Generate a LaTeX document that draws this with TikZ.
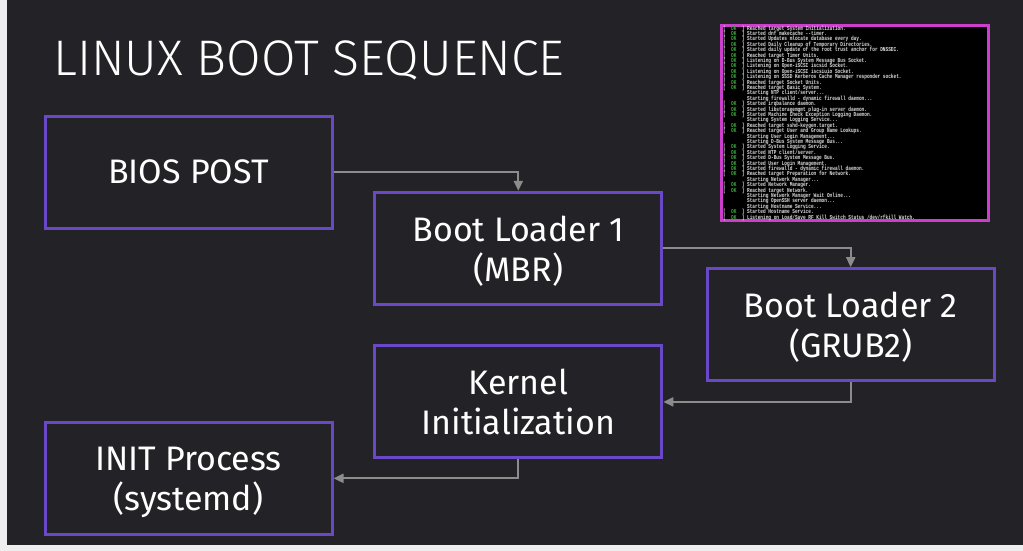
\documentclass[tikz,border=0pt]{standalone}
\usepackage{fontspec}
\setmainfont{Fira Sans}
\setmonofont{Liberation Mono}
\IfFontExistsTF{Fira Sans Light}{\newfontfamily\titlefont{Fira Sans Light}}{\newfontfamily\titlefont{Fira Sans}}
\usepackage{xcolor}
\usepackage{tikz}
\usetikzlibrary{positioning}
\usetikzlibrary{arrows.meta}
\usetikzlibrary{calc}

\definecolor{slidebg}{RGB}{35,34,38}
\definecolor{pagebg}{RGB}{238,238,238}
\definecolor{stepline}{RGB}{106,73,200}
\definecolor{flowline}{RGB}{140,140,140}
\definecolor{termframe}{RGB}{204,62,204}
\definecolor{termtext}{RGB}{222,222,222}
\definecolor{okgreen}{RGB}{60,170,60}

\newcommand{\logfont}{\ttfamily\bfseries\fontsize{6}{5.4}\selectfont\lineskiplimit=-10pt\relax}
\newcommand{\okline}[1]{\makebox[5.4em][l]{[\hspace{1.2em}\textcolor{okgreen}{OK}\hspace{1.2em}]}#1}
\newcommand{\stline}[1]{\hspace*{5.4em}#1}

\begin{document}
\begin{tikzpicture}[x=1pt,y=-1pt]
\tikzstyle{stage}=[draw=stepline, line width=3pt, fill=slidebg, text=white, minimum width=287pt, minimum height=112pt, align=center, inner sep=0pt, text depth=0pt, font=\fontsize{34}{40}\selectfont]
\tikzstyle{flow}=[draw=flowline, line width=2pt, -{Triangle[length=10pt,width=9pt]}]

\useasboundingbox (0,0) rectangle (1023,551);
\fill[pagebg] (0,0) rectangle (1023,551);
\fill[slidebg] (7,0) rectangle (1023,545);

\node[anchor=base west, inner sep=0pt, text=white, font=\titlefont\fontsize{50}{50}\selectfont] (title) at (53,75.5) {LINUX BOOT SEQUENCE};

\node[stage] (bios) at (188.5,172) {BIOS POST};
\node[stage] (mbr) at (518.3,248.3) {Boot Loader 1\\(MBR)};
\node[stage] (grub) at (850.7,324.7) {Boot Loader 2\\(GRUB2)};
\node[stage] (kernel) at (518.3,401.9) {Kernel\\Initialization};
\node[stage] (init) at (188.5,478.3) {INIT Process\\(systemd)};

\draw[flow] (bios.east) -| (mbr.north);
\draw[flow] (mbr.east) -| (grub.north);
\draw[flow] (grub.south) |- (kernel.east);
\draw[flow] (kernel.south) |- (init.east);

% boot log screenshot
\node[draw=termframe, line width=3pt, fill=black, minimum width=267pt, minimum height=195pt] (term) at (854.6,123) {};
\node[anchor=north west, inner sep=0pt, xscale=0.74, align=left, text=termtext, font=\logfont] (bootlog) at (723,25.5) {%
\okline{Reached target System Initialization.}\\
\okline{Started dnf makecache --timer.}\\
\okline{Started Updates mlocate database every day.}\\
\okline{Started Daily Cleanup of Temporary Directories.}\\
\okline{Started daily update of the root trust anchor for DNSSEC.}\\
\okline{Reached target Timer Units.}\\
\okline{Listening on D-Bus System Message Bus Socket.}\\
\okline{Listening on Open-iSCSI iscsid Socket.}\\
\okline{Listening on Open-iSCSI iscsiuio Socket.}\\
\okline{Listening on SSSD Kerberos Cache Manager responder socket.}\\
\okline{Reached target Socket Units.}\\
\okline{Reached target Basic System.}\\
\stline{Starting NTP client/server...}\\
\stline{Starting firewalld - dynamic firewall daemon...}\\
\okline{Started irqbalance daemon.}\\
\okline{Started libstoragemgmt plug-in server daemon.}\\
\okline{Started Machine Check Exception Logging Daemon.}\\
\stline{Starting System Logging Service...}\\
\okline{Reached target sshd-keygen.target.}\\
\okline{Reached target User and Group Name Lookups.}\\
\stline{Starting User Login Management...}\\
\stline{Starting D-Bus System Message Bus...}\\
\okline{Started System Logging Service.}\\
\okline{Started NTP client/server.}\\
\okline{Started D-Bus System Message Bus.}\\
\okline{Started User Login Management.}\\
\okline{Started firewalld - dynamic firewall daemon.}\\
\okline{Reached target Preparation for Network.}\\
\stline{Starting Network Manager...}\\
\okline{Started Network Manager.}\\
\okline{Reached target Network.}\\
\stline{Starting Network Manager Wait Online...}\\
\stline{Starting OpenSSH server daemon...}\\
\stline{Starting Hostname Service...}\\
\okline{Started Hostname Service.}\\
\okline{Listening on Load/Save RF Kill Switch Status /dev/rfkill Watch.}};
\end{tikzpicture}
\end{document}
